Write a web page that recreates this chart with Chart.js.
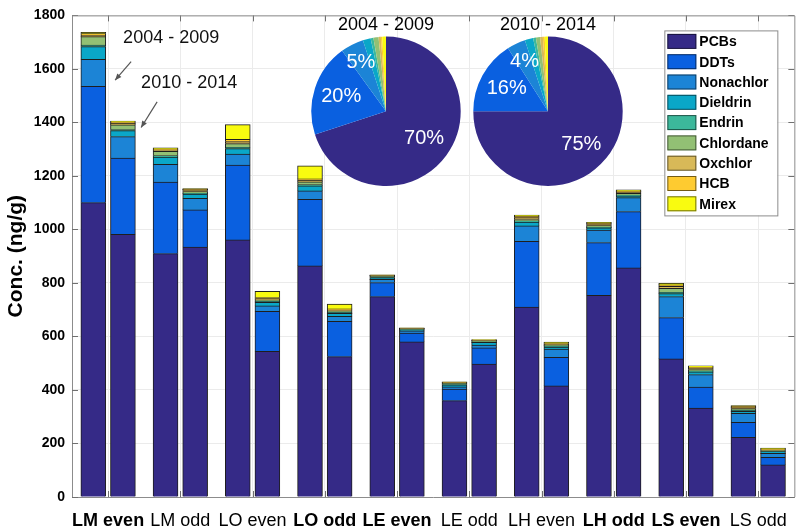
<!DOCTYPE html>
<html>
<head>
<meta charset="utf-8">
<script src="https://cdn.jsdelivr.net/npm/chart.js@4.4.0/dist/chart.umd.min.js"></script>
<style>
  body { margin: 0; background: #fff; }
  #wrap { position: relative; width: 800px; height: 529px; }
  #wrap canvas { position: absolute; }
</style>
</head>
<body>
<div id="wrap">
  <canvas id="barChart" width="800" height="529" style="left:0;top:0"></canvas>
  <canvas id="pie1" width="160" height="172" style="left:306px;top:14px"></canvas>
  <canvas id="pie2" width="160" height="172" style="left:468px;top:14px"></canvas>
</div>
<script>
// sites (x categories) and which labels are bold
const sites = ['LM even', 'LM odd', 'LO even', 'LO odd', 'LE even', 'LE odd', 'LH even', 'LH odd', 'LS even', 'LS odd'];
const boldSites = [true, false, false, true, true, false, false, true, true, false];
const periods = ['2004 - 2009', '2010 - 2014'];
const compounds = ['PCBs', 'DDTs', 'Nonachlor', 'Dieldrin', 'Endrin', 'Chlordane', 'Oxchlor', 'HCB', 'Mirex'];
const colores = ['#352a87', '#0a60e0', '#1c84d6', '#0aa7c8', '#3cb89b', '#92c074', '#d8b958', '#fecb30', '#f9fb10'];

// conc. (ng/g), one row per compound, one value per site
const conc0409 = [
  [1100, 909, 961, 863, 748, 360, 709, 753, 516, 222],  // PCBs
  [434, 267, 279, 249, 53, 43, 246, 197, 154, 56],      // DDTs
  [101, 67, 41, 32, 12, 8, 58, 47, 78, 34],             // Nonachlor
  [48, 27, 21, 18, 6, 7, 14, 8, 12, 8],                 // Dieldrin
  [5, 5, 4, 5, 3, 2, 5, 3, 4, 3],                       // Endrin
  [32, 16, 14, 10, 3, 4, 4, 6, 15, 7],                  // Chlordane
  [6, 6, 8, 6, 2, 2, 8, 4, 8, 4],                       // Oxchlor
  [5, 3, 8, 6, 1, 2, 5, 4, 5, 4],                       // HCB
  [5, 4, 55, 48, 2, 2, 4, 4, 6, 3]                      // Mirex
];
const conc1014 = [
  [981, 933, 544, 524, 579, 496, 415, 856, 332, 120],
  [285, 140, 149, 132, 33, 61, 106, 210, 78, 28],
  [80, 43, 21, 19, 8, 10, 31, 52, 47, 15],
  [23, 16, 13, 11, 3, 10, 8, 7, 10, 6],
  [4, 3, 4, 4, 2, 2, 3, 3, 4, 2],
  [17, 6, 5, 4, 3, 4, 4, 6, 5, 2],
  [7, 4, 5, 5, 1, 2, 3, 5, 5, 3],
  [4, 4, 4, 4, 1, 1, 3, 4, 4, 3],
  [3, 3, 23, 17, 2, 2, 5, 4, 5, 3]
];
// pie shares (%)
const pie0409 = [70, 20, 5, 1.7, 0.6, 1.1, 0.5, 0.3, 0.8];
const pie1014 = [75, 16, 4, 1.8, 0.6, 0.9, 0.6, 0.4, 0.7];

const yMax = 1800, yStep = 200;
const fam = '"Liberation Sans", Arial, sans-serif';
Chart.defaults.font.family = fam;

const datasets = [];
[conc0409, conc1014].forEach((conc, p) => {
  conc.forEach((row, s) => {
    datasets.push({
      label: compounds[s],
      data: row,
      stack: 'p' + p,
      backgroundColor: colores[s],
      borderColor: '#1e1e1e',
      borderWidth: 1,
      inflateAmount: 0.5
    });
  });
});

// frame, inward ticks, notes with arrows and legend box
const decor = {
  id: 'decor',
  beforeDatasetsDraw(chart) {
    const { ctx, chartArea: a, scales: { x, y } } = chart;
    ctx.save();
    ctx.strokeStyle = '#707070';
    ctx.lineWidth = 1;
    ctx.beginPath();
    y.ticks.forEach((t, i) => {
      const py = Math.round(y.getPixelForTick(i)) + 0.5;
      ctx.moveTo(a.left, py); ctx.lineTo(a.left + 6, py);
      ctx.moveTo(a.right, py); ctx.lineTo(a.right - 6, py);
    });
    x.ticks.forEach((t, i) => {
      const px = Math.round(x.getPixelForTick(i)) + 0.5;
      ctx.moveTo(px, a.bottom); ctx.lineTo(px, a.bottom - 6);
      ctx.moveTo(px, a.top); ctx.lineTo(px, a.top + 6);
    });
    ctx.stroke();
    ctx.strokeStyle = '#8c8c8c';
    ctx.beginPath();
    ctx.moveTo(a.left, a.top + 0.5);
    ctx.lineTo(a.right + 0.5, a.top + 0.5);
    ctx.lineTo(a.right + 0.5, a.bottom);
    ctx.stroke();
    ctx.restore();
  },
  afterDraw(chart) {
    const { ctx, chartArea: a, scales: { x, y } } = chart;
    const x0 = x.getPixelForValue(0);
    ctx.save();
    // notes
    ctx.fillStyle = '#111';
    ctx.font = '18px ' + fam;
    ctx.textBaseline = 'middle';
    ctx.textAlign = 'left';
    ctx.fillText(periods[0], x0 + 15, y.getPixelForValue(1716));
    ctx.fillText(periods[1], x0 + 33, y.getPixelForValue(1547));
    const arrow = (xa, va, xb, vb) => {
      const ax = x0 + xa, ay = y.getPixelForValue(va);
      const bx = x0 + xb, by = y.getPixelForValue(vb);
      ctx.strokeStyle = '#555'; ctx.fillStyle = '#555'; ctx.lineWidth = 1.2;
      ctx.beginPath(); ctx.moveTo(ax, ay); ctx.lineTo(bx, by); ctx.stroke();
      const ang = Math.atan2(by - ay, bx - ax);
      ctx.beginPath();
      ctx.moveTo(bx, by);
      ctx.lineTo(bx - 7 * Math.cos(ang - 0.4), by - 7 * Math.sin(ang - 0.4));
      ctx.lineTo(bx - 7 * Math.cos(ang + 0.4), by - 7 * Math.sin(ang + 0.4));
      ctx.closePath(); ctx.fill();
    };
    arrow(23, 1627, 7, 1558);
    arrow(49, 1477, 33, 1381);

    // legend
    const lx = a.right - 130, ly = a.top + 15, lw = 113, lh = 185;
    ctx.fillStyle = '#fff';
    ctx.fillRect(lx, ly, lw, lh);
    ctx.strokeStyle = '#8c8c8c'; ctx.lineWidth = 1;
    ctx.strokeRect(lx + 0.5, ly + 0.5, lw, lh);
    ctx.font = 'bold 14px ' + fam;
    compounds.forEach((c, i) => {
      const ry = ly + 11 + i * 20.3;
      ctx.fillStyle = colores[i];
      ctx.fillRect(lx + 3, ry - 7.5, 29, 15);
      ctx.strokeStyle = 'rgba(0,0,0,0.55)';
      ctx.strokeRect(lx + 3.5, ry - 7, 28, 14);
      ctx.fillStyle = '#000';
      ctx.fillText(c, lx + 35, ry + 1);
    });
    ctx.restore();
  }
};

new Chart(document.getElementById('barChart'), {
  type: 'bar',
  data: { labels: sites, datasets: datasets },
  options: {
    responsive: false,
    animation: false,
    layout: { padding: { top: 7, right: 5, left: 0, bottom: 0 } },
    plugins: { legend: { display: false }, tooltip: { enabled: false } },
    datasets: { bar: { categoryPercentage: 0.82, barPercentage: 0.83 } },
    scales: {
      x: {
        stacked: true,
        grid: { offset: false, color: '#ebebeb', drawTicks: false },
        border: { color: '#8c8c8c' },
        ticks: {
          color: '#000',
          padding: 13,
          maxRotation: 0,
          minRotation: 0,
          autoSkip: false,
          font: (c) => ({ family: fam, size: 18, weight: boldSites[c.index] ? 'bold' : 'normal' })
        },
        afterFit(s) { s.height = 32; }
      },
      y: {
        stacked: true,
        min: 0,
        max: yMax,
        ticks: { stepSize: yStep, color: '#000', padding: 7, font: { size: 14, weight: 'bold' }, callback: (v) => String(v) },
        grid: { color: '#ebebeb', drawTicks: false },
        border: { color: '#8c8c8c' },
        title: { display: true, text: 'Conc. (ng/g)', color: '#000', font: { size: 21, weight: 'bold' }, padding: { top: 4, bottom: 0 } },
        afterFit(s) { s.width = 72; }
      }
    }
  },
  plugins: [decor]
});

// percent labels inside the big slices
const pieLabels = {
  id: 'pieLabels',
  afterDatasetsDraw(chart) {
    const ctx = chart.ctx;
    const vals = chart.data.datasets[0].data;
    const total = vals.reduce((s, v) => s + v, 0);
    ctx.save();
    ctx.fillStyle = '#fff';
    ctx.font = '20px ' + fam;
    ctx.textAlign = 'center';
    ctx.textBaseline = 'middle';
    chart.getDatasetMeta(0).data.forEach((arc, i) => {
      const pct = vals[i] / total * 100;
      if (pct < 3) return;
      const p = arc.getProps(['x', 'y', 'startAngle', 'endAngle', 'outerRadius'], true);
      const mid = (p.startAngle + p.endAngle) / 2;
      const r = p.outerRadius * (pct < 10 ? 0.74 : 0.63);
      ctx.fillText(Math.round(pct) + '%', p.x + Math.cos(mid) * r, p.y + Math.sin(mid) * r);
    });
    ctx.restore();
  }
};

function dibujaPie(id, vals, titulo) {
  new Chart(document.getElementById(id), {
    type: 'pie',
    data: { labels: compounds, datasets: [{ data: vals, backgroundColor: colores, borderWidth: 0 }] },
    options: {
      responsive: false,
      animation: false,
      layout: { padding: 0 },
      plugins: {
        legend: { display: false },
        tooltip: { enabled: false },
        title: { display: true, text: titulo, color: '#000', font: { size: 18, weight: 'normal' }, padding: { top: 0, bottom: 1 } }
      }
    },
    plugins: [pieLabels]
  });
}
dibujaPie('pie1', pie0409, periods[0]);
dibujaPie('pie2', pie1014, periods[1]);
</script>
</body>
</html>
